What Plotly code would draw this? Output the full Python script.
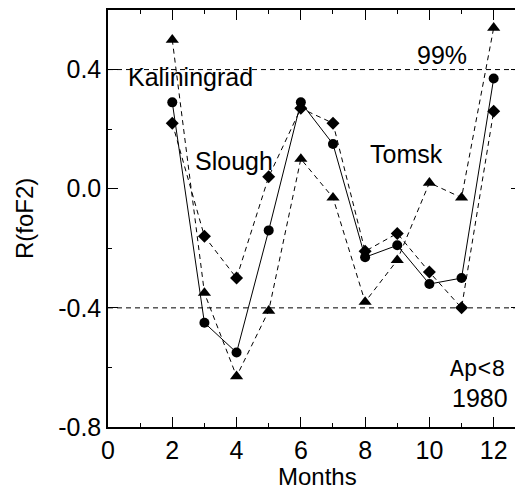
import plotly.graph_objects as go

months = [2, 3, 4, 5, 6, 7, 8, 9, 10, 11, 12]
kaliningrad = [0.29, -0.45, -0.55, -0.14, 0.29, 0.15, -0.23, -0.19, -0.32, -0.30, 0.37]
slough = [0.22, -0.16, -0.30, 0.04, 0.27, 0.22, -0.21, -0.15, -0.28, -0.40, 0.26]
tomsk = [0.50, -0.35, -0.63, -0.41, 0.10, -0.03, -0.38, -0.24, 0.02, -0.03, 0.54]
level_99 = 0.4

x_ticks = [0, 2, 4, 6, 8, 10, 12]
y_ticks = [-0.8, -0.4, 0.0, 0.4]
y_tick_labels = ["-0.8", "-0.4", "0.0", "0.4"]

FONT = "Liberation Sans, Arial, sans-serif"
# the page body has an 8px default margin, so the figure is sized to fit the window
W, H = 515, 481
ML, MR, MT, MB = 100, 2, 2, 62

fig = go.Figure()

# 99% levels
for lv in (level_99, -level_99):
    fig.add_trace(go.Scatter(x=[0, 12.85], y=[lv, lv], mode="lines",
                             line=dict(color="black", width=1, dash="5px,4px"),
                             hoverinfo="skip", showlegend=False))

fig.add_trace(go.Scatter(x=months, y=tomsk, mode="lines+markers",
                         line=dict(color="black", width=1, dash="5px,4px"),
                         marker=dict(symbol="triangle-up", size=11.5, color="black"),
                         showlegend=False))
fig.add_trace(go.Scatter(x=months, y=slough, mode="lines+markers",
                         line=dict(color="black", width=1, dash="5px,4px"),
                         marker=dict(symbol="diamond", size=10, color="black"),
                         showlegend=False))
fig.add_trace(go.Scatter(x=months, y=kaliningrad, mode="lines+markers",
                         line=dict(color="black", width=1),
                         marker=dict(symbol="circle", size=10, color="black"),
                         showlegend=False))

def ann(text, x, y, xanchor="left", font=FONT, size=25):
    fig.add_annotation(x=x, y=y, xref="x", yref="y", text=text, showarrow=False,
                       xanchor=xanchor, yanchor="middle",
                       font=dict(family=font, size=size, color="black"))

ann("Kaliningrad", 0.55, 0.376)
ann("Slough", 2.66, 0.094)
ann("Tomsk", 8.08, 0.118)
ann("99%", 9.55, 0.450)
ann("Ap<8", 12.40, -0.607, xanchor="right", font="Liberation Mono, Courier New, monospace", size=23)
ann("1980", 12.52, -0.704, xanchor="right")

# axis titles placed in pixel-derived paper coordinates (figure px = page px - 8)
pw, ph = W - ML - MR, H - MT - MB
fig.add_annotation(x=(317 - 8 - ML) / pw, y=(H - MB - (476 - 8)) / ph, xref="paper", yref="paper",
                   text="Months", showarrow=False, xanchor="center", yanchor="middle",
                   font=dict(family=FONT, size=24, color="black"))
fig.add_annotation(x=(24 - 8 - ML) / pw, y=(H - MB - (219 - 8)) / ph, xref="paper", yref="paper",
                   text="R(foF2)", showarrow=False, xanchor="center", yanchor="middle",
                   textangle=-90, font=dict(family=FONT, size=24, color="black"))

fig.update_layout(
    width=W, height=H,
    margin=dict(l=ML, r=MR, t=MT, b=MB),
    paper_bgcolor="white", plot_bgcolor="white",
    font=dict(family=FONT, size=24, color="black"),
    xaxis=dict(range=[0, 12.85], tickvals=x_ticks, ticks="inside", ticklen=10,
               tickwidth=1, tickcolor="black", showline=True, linecolor="black",
               linewidth=1.5, mirror="ticks", showgrid=False, zeroline=False,
               automargin=False,
               minor=dict(dtick=1, ticks="inside", ticklen=4, tickcolor="black"),
               tickfont=dict(size=25)),
    yaxis=dict(range=[-0.8, 0.6], tickvals=y_ticks, ticktext=y_tick_labels,
               ticks="inside", ticklen=10, tickwidth=1, tickcolor="black",
               showline=True, linecolor="black", linewidth=1.5, mirror="ticks",
               showgrid=False, zeroline=False, automargin=False,
               minor=dict(dtick=0.2, tick0=0, ticks="inside", ticklen=4, tickcolor="black"),
               tickfont=dict(size=25)),
)

fig.write_html("out.html")
